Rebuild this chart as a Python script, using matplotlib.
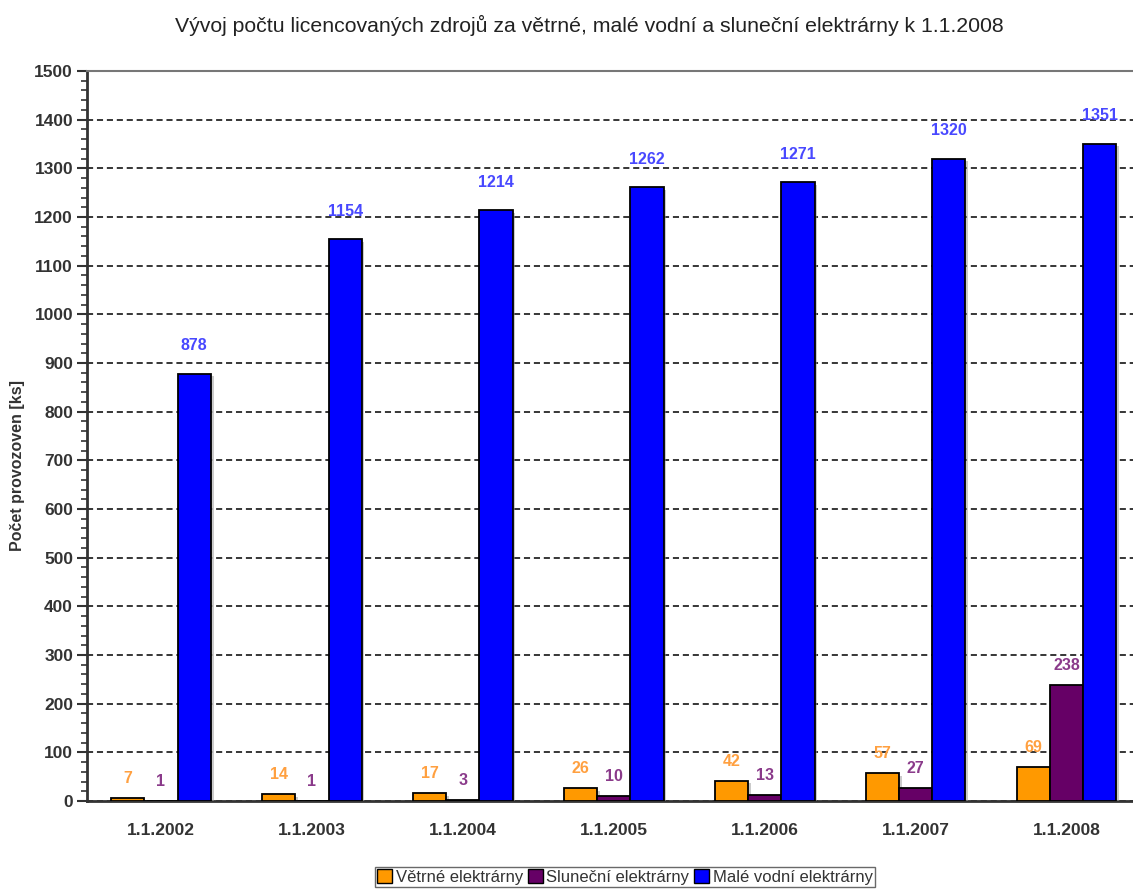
import matplotlib
matplotlib.use("Agg")
import matplotlib.pyplot as plt
import matplotlib.patheffects as pe
from matplotlib.ticker import MultipleLocator
from matplotlib.patches import Patch
import numpy as np

# Data: number of licensed sources by date
dates = ["1.1.2002", "1.1.2003", "1.1.2004", "1.1.2005", "1.1.2006", "1.1.2007", "1.1.2008"]
vetrne = [7, 14, 17, 26, 42, 57, 69]
slunecni = [1, 1, 3, 10, 13, 27, 238]
vodni = [878, 1154, 1214, 1262, 1271, 1320, 1351]

series_names = ["Větrné elektrárny", "Sluneční elektrárny", "Malé vodní elektrárny"]
bar_colors = ["#FF9900", "#660066", "#0000FF"]
label_colors = ["#FFA040", "#8A3A8A", "#4848FF"]
label_offsets = [14, 14, 20]

FONT = ["Liberation Sans Narrow", "Liberation Sans", "DejaVu Sans"]
plt.rcParams["font.family"] = FONT

fig = plt.figure(figsize=(11.33, 8.92), dpi=100)
ax = fig.add_axes([87 / 1133, 1 - 801 / 892, 1 - 87 / 1133, (801 - 71) / 892])

x = np.arange(len(dates))
w = 0.22
all_series = [vetrne, slunecni, vodni]
offsets = [-w, 0, w]

# Gridlines behind bars
ax.set_axisbelow(True)
ax.yaxis.grid(True, which="major", linestyle=(0, (4, 2.5)), color="black", linewidth=1.1)

shadow = [pe.SimplePatchShadow(offset=(2, -2), shadow_rgbFace="#999999", alpha=0.5), pe.Normal()]

for vals, off, col, lcol, loff in zip(all_series, offsets, bar_colors, label_colors, label_offsets):
    bars = ax.bar(x + off, vals, width=w, color=col, edgecolor="black", linewidth=1.3, zorder=3)
    for b in bars:
        b.set_path_effects(shadow)
    for b, v in zip(bars, vals):
        ax.annotate(str(v), (b.get_x() + b.get_width() / 2, b.get_height()),
                    xytext=(0, loff), textcoords="offset points",
                    ha="center", va="center", color=lcol, fontsize=11.5,
                    fontweight="bold", zorder=4)

ax.set_xlim(-0.49, 6.44)
ax.set_ylim(0, 1500)
ax.yaxis.set_major_locator(MultipleLocator(100))
ax.yaxis.set_minor_locator(MultipleLocator(20))
ax.set_xticks(x)
ax.set_xticklabels(dates, fontsize=12.5, fontweight="bold", color="#333333")
ax.tick_params(axis="x", length=0, pad=16)
ax.tick_params(axis="y", which="major", length=7, width=1.5, color="#333333",
               labelsize=12.5, labelcolor="#333333", pad=3)
ax.tick_params(axis="y", which="minor", length=4, width=1.2, color="#333333")
for lbl in ax.get_yticklabels():
    lbl.set_fontweight("bold")

ax.spines["left"].set_linewidth(2)
ax.spines["left"].set_color("#333333")
ax.spines["bottom"].set_linewidth(2)
ax.spines["bottom"].set_color("#333333")
ax.spines["top"].set_linewidth(1.5)
ax.spines["top"].set_color("#777777")
ax.spines["right"].set_visible(False)

ax.set_ylabel("Počet provozoven [ks]", fontsize=11.5, fontweight="bold", color="#333333")
ax.yaxis.set_label_coords(-62 / 1046, 0.459)

fig.text(0.52, 1 - 25 / 892, "Vývoj počtu licencovaných zdrojů za větrné, malé vodní a sluneční elektrárny k 1.1.2008",
         ha="center", va="center", fontsize=15.3, color="#222222")

handles = [Patch(facecolor=c, edgecolor="black", linewidth=1) for c in bar_colors]
fig.legend(handles, series_names, loc="center", bbox_to_anchor=(625 / 1133, 1 - 877 / 892),
           ncol=3, frameon=True, fancybox=False, edgecolor="#444444", fontsize=12,
           handlelength=0.9, handleheight=0.9, handletextpad=0.2, columnspacing=0.3,
           borderpad=0.15, labelcolor="#333333")

fig.savefig("out.png", dpi=100)
